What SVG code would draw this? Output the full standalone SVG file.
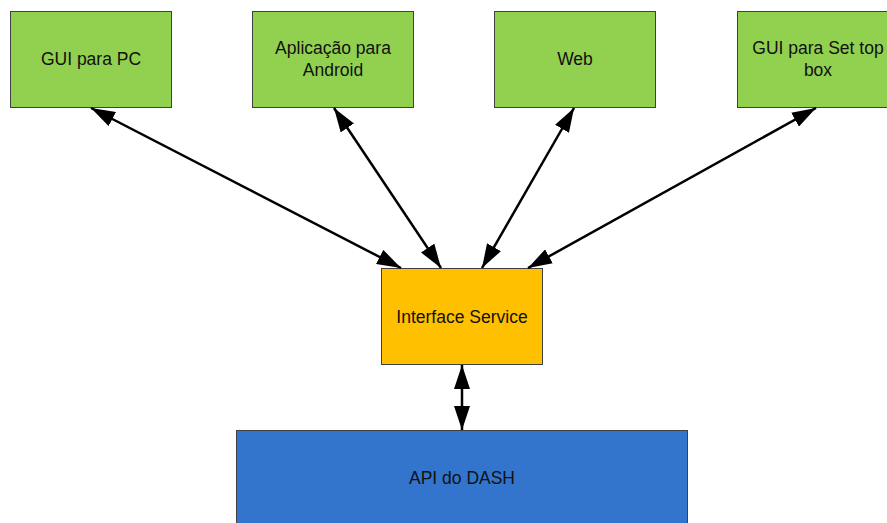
<svg xmlns="http://www.w3.org/2000/svg" width="887" height="523" viewBox="0 0 887 523">
<style>
.box{stroke:#404040;stroke-width:1}
.g{fill:#92D050}
.o{fill:#FFC000}
.b{fill:#3375CC}
text{font-family:"Liberation Sans",Arial,sans-serif;font-size:17.5px;fill:#111;text-anchor:middle}
.c line{stroke:#000;stroke-width:2.5;marker-start:url(#ah);marker-end:url(#ah)}
</style>
<defs>
<marker id="ah" viewBox="0 0 24 16" refX="24" refY="8" markerWidth="24" markerHeight="16" markerUnits="userSpaceOnUse" orient="auto-start-reverse">
<path d="M0,0 L24,8 L0,16 z" fill="#000"/>
</marker>
</defs>
<rect width="887" height="523" fill="#fff"/>
<g id="gui-pc"><rect class="box g" x="10.5" y="11.5" width="161" height="96"/><text x="91" y="65">GUI para PC</text></g>
<g id="android"><rect class="box g" x="252.5" y="11.5" width="161" height="96"/><text x="333" y="54">Aplicação para</text><text x="333" y="76">Android</text></g>
<g id="web"><rect class="box g" x="494.5" y="11.5" width="161" height="96"/><text x="575" y="65">Web</text></g>
<g id="gui-stb"><rect class="box g" x="737.5" y="11.5" width="161" height="96"/><text x="818" y="54">GUI para Set top</text><text x="818" y="76">box</text></g>
<g id="interface"><rect class="box o" x="381.5" y="268.5" width="161" height="96"/><text x="462" y="323">Interface Service</text></g>
<g id="api"><rect class="box b" x="236.5" y="430.5" width="451" height="100"/><text x="462" y="484">API do DASH</text></g>
<g id="connectors" class="c">
<line x1="401" y1="268" x2="91" y2="108"/>
<line x1="441" y1="268" x2="334" y2="108"/>
<line x1="482" y1="268" x2="574" y2="108"/>
<line x1="528" y1="268" x2="816" y2="108"/>
<line x1="462" y1="365" x2="462" y2="430"/>
</g>
</svg>
